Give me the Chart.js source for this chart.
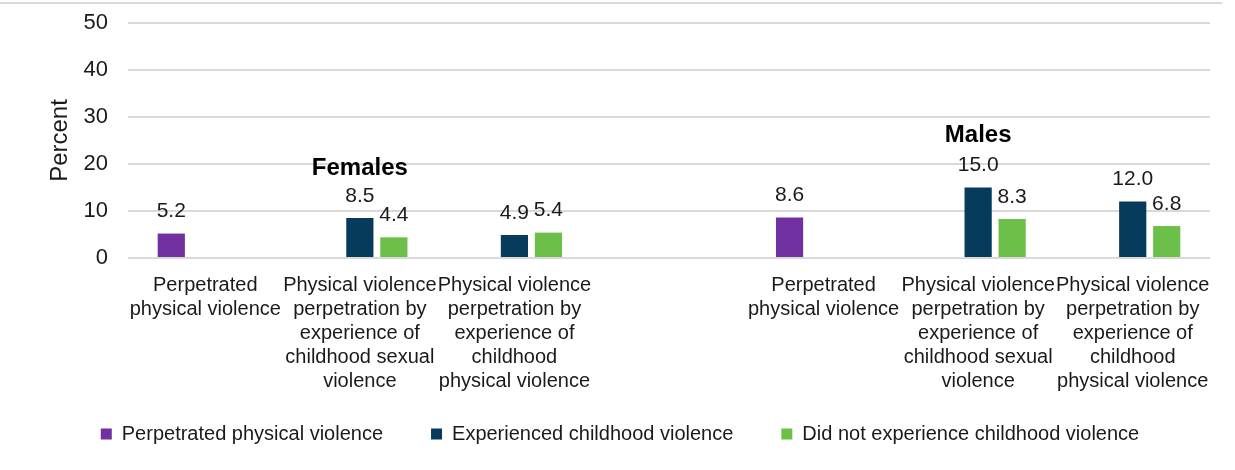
<!DOCTYPE html>
<html lang="en">
<head>
    <meta charset="UTF-8">
    <title>chart</title>
    <script src="https://cdn.jsdelivr.net/npm/chart.js@4.4.0/dist/chart.umd.min.js"></script>
    <style>
        body{
            margin: 0;
            background: #fff;
        }
        #canvas{
            display: block;
        }
    </style>
</head>
<body>
    <canvas id="canvas" width="1235" height="470"></canvas>

<script type="text/javascript">
    // categories (4th slot is the empty gap between Females and Males)
    var categories = [
        ["Perpetrated", "physical violence"],
        ["Physical violence", "perpetration by", "experience of", "childhood sexual", "violence"],
        ["Physical violence", "perpetration by", "experience of", "childhood", "physical violence"],
        "",
        ["Perpetrated", "physical violence"],
        ["Physical violence", "perpetration by", "experience of", "childhood sexual", "violence"],
        ["Physical violence", "perpetration by", "experience of", "childhood", "physical violence"]
    ];
    var perpetrated = [5.2, null, null, null, 8.6, null, null];
    var experienced = [null, 8.5, 4.9, null, null, 15.0, 12.0];
    var notExperienced = [null, 4.4, 5.4, null, null, 8.3, 6.8];
    var yTicks = [0, 10, 20, 30, 40, 50];
    var groupLabels = [
        {text: "Females", index: 1, value: 19},
        {text: "Males", index: 5, value: 26}
    ];

    var FONT = "'Liberation Sans', Arial, sans-serif";

    // value labels above bars + group labels + top rule
    var extras = {
        id: 'extras',
        afterLayout: function(chart){
            // x labels are taller than the box we gave the axis, don't clip the last line
            chart.scales.x.bottom = chart.height;
            // legend sits centred on the whole canvas, not the plot
            chart.legend.left -= 8;
            chart.legend.right -= 8;
        },
        beforeDraw: function(chart){
            var ctx = chart.ctx;
            ctx.save();
            ctx.strokeStyle = '#d9d9d9';
            ctx.lineWidth = 2;
            ctx.beginPath();
            ctx.moveTo(0, 3);
            ctx.lineTo(1222, 3);
            ctx.stroke();
            ctx.restore();
        },
        afterDatasetsDraw: function(chart){
            var ctx = chart.ctx;
            ctx.save();
            ctx.font = '21px ' + FONT;
            ctx.fillStyle = '#1a1a1a';
            ctx.textAlign = 'center';
            ctx.textBaseline = 'middle';
            chart.data.datasets.forEach(function(ds, i){
                var meta = chart.getDatasetMeta(i);
                meta.data.forEach(function(bar, j){
                    var v = ds.data[j];
                    if (v === null) return;
                    ctx.fillText(v.toFixed(1), bar.x, bar.y - 22);
                });
            });
            var xs = chart.scales.x, ys = chart.scales.y;
            ctx.font = 'bold 24px ' + FONT;
            ctx.fillStyle = '#000';
            groupLabels.forEach(function(g){
                ctx.fillText(g.text, xs.getPixelForValue(g.index), ys.getPixelForValue(g.value));
            });
            ctx.restore();
        }
    };

    const ctx = document.getElementById('canvas').getContext('2d');
    const myChart = new Chart(ctx, {
        type: 'bar',
        data: {
            labels: categories,
            datasets: [{
                label: 'Perpetrated physical violence',
                data: perpetrated,
                backgroundColor: '#7030a0'
            }, {
                label: 'Experienced childhood violence',
                data: experienced,
                backgroundColor: '#073b5c'
            }, {
                label: 'Did not experience childhood violence',
                data: notExperienced,
                backgroundColor: '#6cc04a'
            }]
        },
        options: {
            responsive: false,
            animation: false,
            categoryPercentage: 0.66,
            barPercentage: 0.8,
            layout: {
                padding: {left: 46, right: 25, top: 23, bottom: 16}
            },
            plugins: {
                legend: {
                    position: 'bottom',
                    labels: {
                        boxWidth: 11,
                        boxHeight: 11,
                        padding: 48,
                        color: '#1a1a1a',
                        font: {family: FONT, size: 20}
                    }
                },
                tooltip: {enabled: false}
            },
            scales: {
                x: {
                    grid: {display: false},
                    border: {display: false},
                    afterFit: function(axis){ axis.height = 118; },
                    ticks: {
                        maxRotation: 0,
                        autoSkip: false,
                        padding: 7,
                        color: '#1a1a1a',
                        font: {family: FONT, size: 20, lineHeight: 1.2}
                    }
                },
                y: {
                    min: 0,
                    max: 50,
                    afterBuildTicks: function(axis){
                        axis.ticks = yTicks.map(function(v){ return {value: v}; });
                    },
                    afterFit: function(axis){
                        axis.width = 82;
                        axis.paddingTop = 0;
                        axis.paddingBottom = 0;
                    },
                    grid: {color: '#d9d9d9', lineWidth: 2, drawTicks: false},
                    border: {display: false},
                    ticks: {
                        padding: 20,
                        color: '#1a1a1a',
                        font: {family: FONT, size: 22}
                    },
                    title: {
                        display: true,
                        text: 'Percent',
                        color: '#1a1a1a',
                        padding: {top: 0, bottom: 0},
                        font: {family: FONT, size: 24}
                    }
                }
            }
        },
        plugins: [extras]
    });
</script>
</body>
</html>
